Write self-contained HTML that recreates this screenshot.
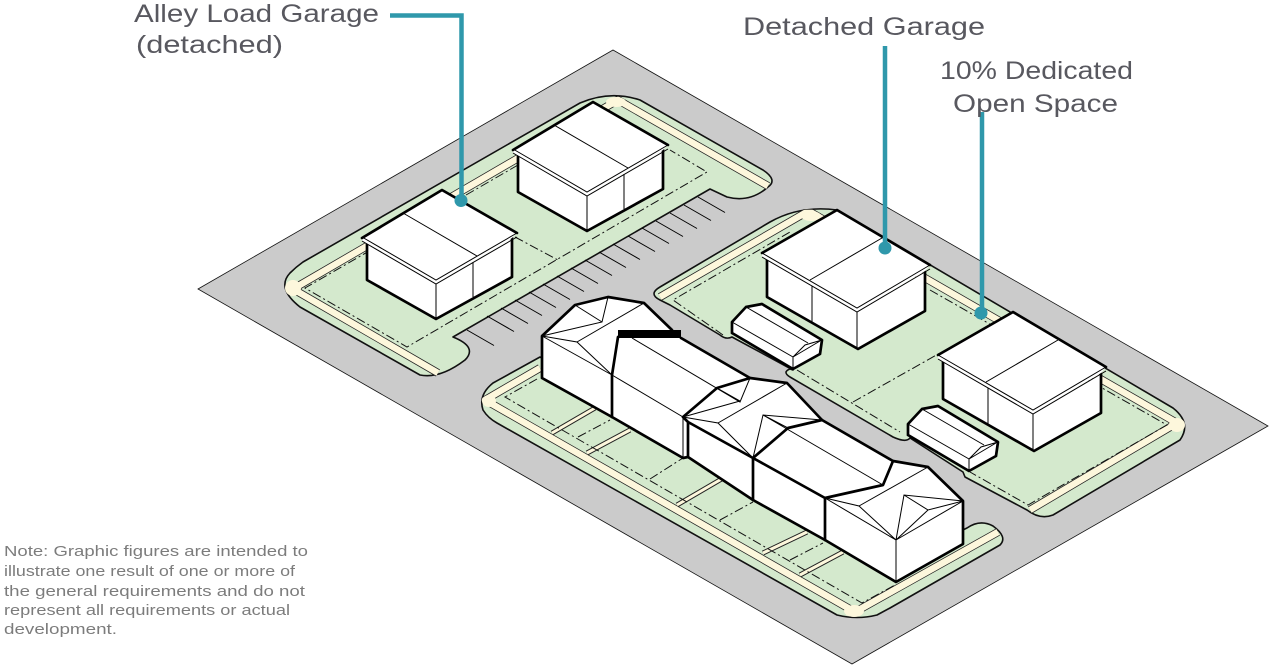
<!DOCTYPE html>
<html>
<head>
<meta charset="utf-8">
<style>
html,body{margin:0;padding:0;background:#fff;width:1270px;height:671px;overflow:hidden}
svg{display:block}
.lbl{font-family:"Liberation Sans",sans-serif;font-size:25px;fill:#58585f}
.note{font-family:"Liberation Sans",sans-serif;font-size:15px;fill:#7c7c7c}
.lot{fill:#d4e9cd;stroke:#111;stroke-width:1.6;stroke-linejoin:round}
.so{fill:none;stroke:#222;stroke-width:8;stroke-linejoin:round}
.si{fill:none;stroke:#fdf7dc;stroke-width:6.5;stroke-linejoin:round}
.wo{fill:none;stroke:#222;stroke-width:5}
.wi{fill:none;stroke:#fdf7dc;stroke-width:3}
.dash{fill:none;stroke:#111;stroke-width:1;stroke-dasharray:9 3 2 3}
.thin{fill:none;stroke:#000;stroke-width:1}
.thick{fill:none;stroke:#000;stroke-width:2.7;stroke-linejoin:round;stroke-linecap:round}
.w{fill:#fff;stroke:none}
.teal{fill:none;stroke:#2f98ab;stroke-width:4.5}
.blob{fill:#fdf7dc;stroke:none}
</style>
</head>
<body>
<svg width="1270" height="671" viewBox="0 0 1270 671" xmlns="http://www.w3.org/2000/svg">
<defs>
<g id="boxA">
<polygon class="w" points="367,242 436,284 512,238 512,277 436,319 367,280"/>
<polyline class="thick" points="367,242 367,280 436,319 512,277 512,238"/>
<path class="thin" d="M436,284V319M473,262V297"/>
<polygon class="w" points="362,237 442,190 517,233 512,238 436,284 362,241"/>
<polyline class="thick" points="362,238 442,190 517,233"/>
<path class="thin" d="M362,237L436,280L517,233M362,241L436,284L517,237M403,213L477,256"/>
</g>
<g id="boxC">
<polygon class="w" points="767,258 857,312 925,272 925,311 858,349 767,297"/>
<polyline class="thick" points="767,258 767,297 858,349 925,311 925,272"/>
<path class="thin" d="M857,312V349M812,284V323"/>
<polygon class="w" points="762,253 837,210 930,265 925,271 857,312 762,257"/>
<polyline class="thick" points="762,253 837,210 930,265"/>
<path class="thin" d="M762,253L857,308L930,265M762,257L857,312L930,269M810,280L882,238"/>
</g>
<g id="small">
<polygon class="w" points="731,322 746,307 762,304 822,340 820,354 793,369 732,333"/>
<polyline class="thick" points="732,333 732,322 746,307 762,304 822,340 820,354 793,369 732,333"/>
<path class="thin" d="M732,322L793,357V369M746,307L808,343M793,357L805,345L822,340M793,357L820,341"/>
</g>
</defs>

<!-- ground -->
<polygon points="198,289 613,50 1268,426 852,664" fill="#cbcbcb" stroke="#111" stroke-width="0.8"/>

<!-- NW lot -->
<path class="lot" d="M303,262L580,103Q610,90 640,100L763,170Q778,180 768,187Q750,203 727,197L710,189L453,337Q478,347 465,360Q440,379 420,375L300,307Q276,288 290,273Q296,267 303,262Z"/>
<path class="so" d="M438,373L293,289L618,100L768,186"/>
<path class="si" d="M438,373L293,289L618,100L768,186"/>
<circle class="blob" cx="293" cy="288" r="8"/>
<ellipse class="blob" cx="616" cy="102" rx="10" ry="5"/>
<path class="dash" d="M518,165L305,288L407,347L707,172L670,150M515,237L558,260"/>
<!-- parking -->
<path class="thin" stroke="#222" d="M698,197l27,15.5M684,205l27,15.5M670,213l27,15.5M656,221l27,15.5M642,228l27,15.5M628,236l27,15.5M613,244l27,15.5M599,252l27,15.5M585,260l27,15.5M571,268l27,15.5M557,276l27,15.5M543,284l27,15.5M529,292l27,15.5M515,300l27,15.5M501,308l27,15.5M487,316l27,15.5M467,330l27,15.5"/>

<!-- NE lot -->
<path class="lot" d="M660,287L770,222Q800,205 837,210L1173,408Q1192,423 1180,440L1053,515Q1040,520 1027,510L965,477L963,472L910,438Q906,443 893,437L790,377Q782,372 790,369L793,370L732,337Q726,340 720,335L670,305L660,300Q648,294 660,287Z"/>
<path class="so" d="M660,297L805,213L812,213L1177,423L1030,510"/>
<path class="si" d="M660,297L805,213L812,213L1177,423L1030,510"/>
<ellipse class="blob" cx="811" cy="216" rx="10" ry="5"/>
<ellipse class="blob" cx="1177" cy="425" rx="8" ry="7"/>
<path class="dash" d="M723,335L673,300L790,232M930,290L1167,425L1028,505L970,472M797,370L900,432M853,402L940,353"/>

<!-- S lot -->
<path class="lot" d="M540,357L493,383Q478,395 483,410Q488,418 497,423L837,615Q857,620 877,615L890,608L1000,545Q1008,537 993,526Q980,519 967,528L900,560L540,357Z"/>
<path class="so" d="M540,368L485,400L855,612L998,532"/>
<path class="si" d="M540,368L485,400L855,612L998,532"/>
<ellipse class="blob" cx="489" cy="401" rx="7" ry="6"/>
<ellipse class="blob" cx="854" cy="611" rx="10" ry="6"/>
<path class="wo" d="M552,433L595,408M587,453L630,430M677,505L725,477M763,553L807,532M800,575L843,552"/>
<path class="wi" d="M552,433L595,408M587,453L630,430M677,505L725,477M763,553L807,532M800,575L843,552"/>
<path class="dash" d="M537,379L505,397L862,603L895,585M578,437L610,420M650,479L683,458M720,520L753,502M790,560L823,543"/>

<!-- main house -->
<polygon class="w" points="542,336 575,305 608,297 644,303 672,330 681,338 750,378 787,383 822,420 893,461 928,467 963,501 963,544 896,582 825,540 753,500 688,457 683,458 612,417 542,378"/>
<path class="thin" d="M542,336L612,375L683,417V458M542,336L602,322L608,297M575,305L602,322M542,336L577,342L612,375M577,342L644,303M632,338L740,402L750,378M683,417L740,401M717,388L740,401M683,417L718,423L753,458M718,423L787,383M753,458L763,415L822,420M763,415L788,428M763,415L883,485M825,498L859,506L896,540M825,498L896,540M859,506L928,467M896,540L904,495L963,501M904,495L928,510L963,501M928,510L896,540M896,540L963,501M896,540V582"/>
<path class="thick" d="M542,378V336L575,305L608,297L644,303L672,330M681,338L750,378L787,383L822,420L893,461L928,467L963,501V544L896,582L825,540L753,500L688,457L683,458L612,417L542,378"/>
<path class="thick" d="M618,337L612,375V417M683,417L717,388L750,378M683,417L688,422V457M688,422L753,458V500M753,458L788,428L822,420M753,458L825,498V540M825,498L883,485L893,461"/>
<rect x="618" y="330" width="63" height="8" fill="#000"/>

<!-- garages -->
<use href="#boxA"/>
<use href="#boxA" transform="translate(151,-88)"/>
<use href="#boxC"/>
<use href="#boxC" transform="translate(176,102)"/>
<use href="#small"/>
<use href="#small" transform="translate(176,102)"/>

<!-- leaders -->
<path class="teal" d="M390,15.5H461.5V200"/>
<circle cx="461" cy="200.5" r="6.5" fill="#2f98ab"/>
<path class="teal" d="M885,46V248"/>
<circle cx="885" cy="248" r="6.5" fill="#2f98ab"/>
<path class="teal" d="M982,112V313"/>
<circle cx="981" cy="313" r="6.5" fill="#2f98ab"/>

<!-- labels -->
<text class="lbl" x="134" y="22" textLength="245" lengthAdjust="spacingAndGlyphs">Alley Load Garage</text>
<text class="lbl" x="136" y="53" textLength="147" lengthAdjust="spacingAndGlyphs">(detached)</text>
<text class="lbl" x="743" y="35" textLength="242" lengthAdjust="spacingAndGlyphs">Detached Garage</text>
<text class="lbl" x="940" y="79" textLength="193" lengthAdjust="spacingAndGlyphs">10% Dedicated</text>
<text class="lbl" x="953" y="112" textLength="165" lengthAdjust="spacingAndGlyphs">Open Space</text>

<text class="note" x="4" y="556" textLength="304" lengthAdjust="spacingAndGlyphs">Note: Graphic figures are intended to</text>
<text class="note" x="4" y="576" textLength="291" lengthAdjust="spacingAndGlyphs">illustrate one result of one or more of</text>
<text class="note" x="4" y="596" textLength="301" lengthAdjust="spacingAndGlyphs">the general requirements and do not</text>
<text class="note" x="4" y="615" textLength="286" lengthAdjust="spacingAndGlyphs">represent all requirements or actual</text>
<text class="note" x="4" y="634" textLength="113" lengthAdjust="spacingAndGlyphs">development.</text>
</svg>
</body>
</html>
